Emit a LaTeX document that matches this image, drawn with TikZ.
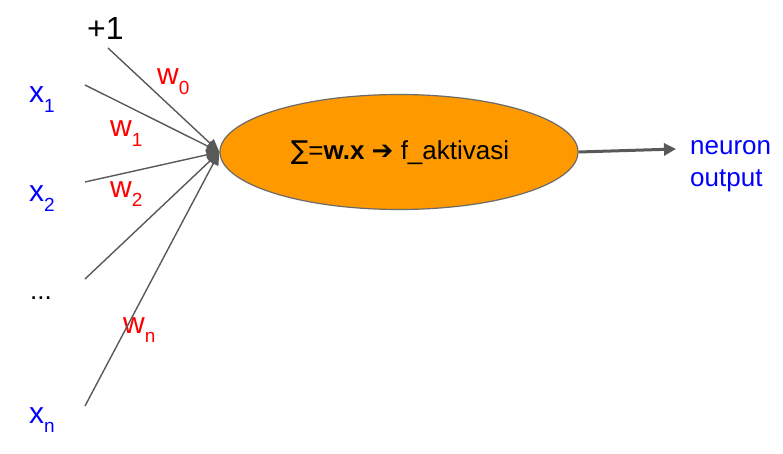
\documentclass[tikz,border=0pt]{standalone}
\usepackage{fontspec}
\setmainfont{Liberation Sans}
\newfontfamily\symfont{DejaVu Sans}
\usetikzlibrary{shapes.geometric,arrows.meta}
\definecolor{lineg}{HTML}{595959}
\definecolor{orng}{HTML}{FF9900}
\definecolor{bordg}{HTML}{6B6B6B}
\definecolor{bl}{HTML}{0000FF}
\definecolor{rd}{HTML}{FF0000}
\tikzset{
  inlabel/.style={anchor=base west, inner sep=0, text=bl, font=\fontsize{30}{34}\selectfont},
  wlabel/.style={anchor=base west, inner sep=0, text=rd, font=\fontsize{30}{34}\selectfont},
  outlabel/.style={anchor=base west, inner sep=0, text=bl, font=\fontsize{26}{30}\selectfont},
  inline/.style={draw=lineg, line width=1.4pt, -{Triangle[length=13pt,width=11pt]}},
  outline/.style={draw=lineg, line width=3pt, -{Triangle[length=12pt,width=12pt]}},
}
\newcommand{\subsz}[1]{\raisebox{-9.5pt}{\fontsize{19}{21}\selectfont #1}}
\begin{document}
\begin{tikzpicture}[x=1pt,y=-1pt]
\useasboundingbox (0,0) rectangle (783,454);
% neuron
\node[ellipse, draw=bordg, line width=1.2pt, fill=orng, minimum width=358pt, minimum height=115pt, inner sep=0] (neuron) at (399,152) {};
\node[anchor=base, inner sep=0, font=\fontsize{26}{30}\selectfont] (formula) at (400,160) {{\symfont ∑}=\textbf{w.x} {\symfont\fontsize{26}{30}\selectfont ➔} f\_aktivasi};
% labels
\node[anchor=base west, inner sep=0, font=\fontsize{32}{36}\selectfont] (bias) at (87,40) {+1};
\node[inlabel] (x1) at (29,103) {x\subsz{1}};
\node[inlabel] (x2) at (29,202) {x\subsz{2}};
\node[anchor=base west, inner sep=0, font=\fontsize{26}{30}\selectfont] (dots) at (30,299) {...};
\node[inlabel] (xn) at (29,423) {x\subsz{n}};
\node[wlabel] (w0) at (157,85) {w\subsz{0}};
\node[wlabel] (w1) at (110,137) {w\subsz{1}};
\node[wlabel] (w2) at (110,197) {w\subsz{2}};
\node[wlabel] (wn) at (123,333) {w\subsz{n}};
% line starts
\coordinate (sb) at (108,48);
\coordinate (s1) at (85,85);
\coordinate (s2) at (85,182);
\coordinate (sd) at (85,279);
\coordinate (sn) at (85,406);
\foreach \s in {sb,s1,s2,sd,sn} {
  \draw[inline] (\s) -- (neuron.west);
}
% output
\coordinate (oend) at (676,149);
\draw[outline] (neuron.east) -- (oend);
\node[outlabel] (out1) at (690,155) {neuron};
\node[outlabel] (out2) at (690,187) {output};
\end{tikzpicture}
\end{document}
